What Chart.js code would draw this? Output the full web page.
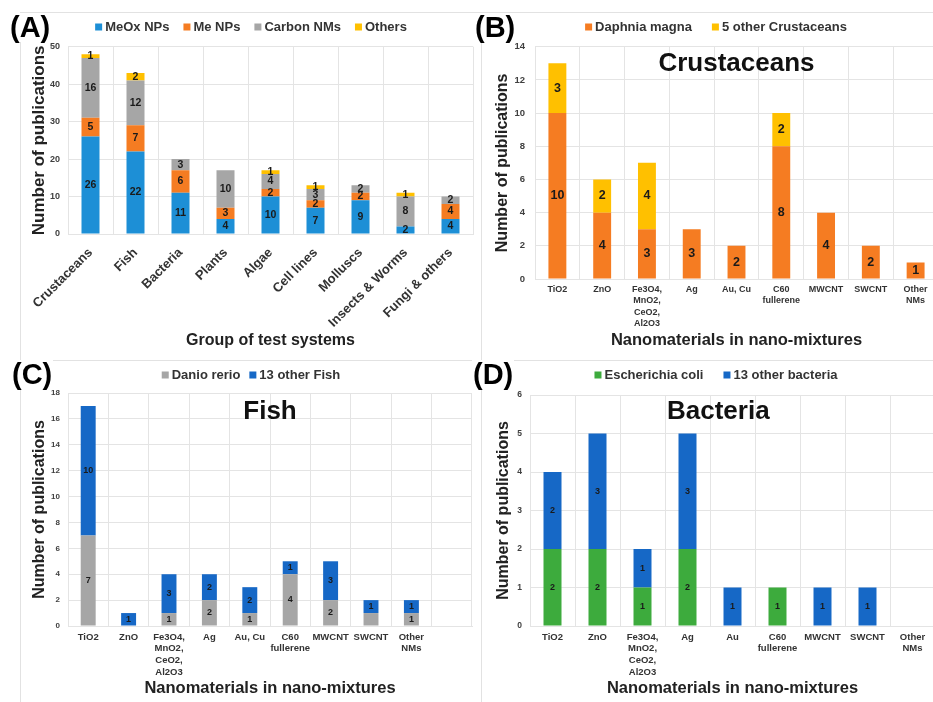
<!DOCTYPE html>
<html>
<head>
<meta charset="utf-8">
<title>Nano-mixture test systems</title>
<script src="https://cdn.jsdelivr.net/npm/chart.js@4.4.0/dist/chart.umd.min.js"></script>
<style>
  html, body { margin: 0; padding: 0; background: #fff; width: 933px; height: 702px; overflow: hidden; }
  #fig { position: relative; width: 933px; height: 702px; overflow: hidden; background: #fff; }
  .rule { position: absolute; background: #e2e2e2; }
  canvas.panel { position: absolute; }
  .tag { position: absolute; font: bold 29px "Liberation Sans", Arial, sans-serif; line-height: 29px;
         color: #000; background: #fff; padding: 0 1px; }
</style>
</head>
<body>
<div id="fig">
  <div class="rule" style="left:20px;top:12px;width:913px;height:1px"></div>
  <div class="rule" style="left:20px;top:360px;width:913px;height:1px"></div>
  <div class="rule" style="left:20px;top:12px;width:1px;height:690px"></div>
  <div class="rule" style="left:481px;top:12px;width:1px;height:690px"></div>

  <canvas class="panel" id="chartA" width="462" height="348" style="left:20px;top:12px"></canvas>
  <canvas class="panel" id="chartB" width="468" height="348" style="left:482px;top:12px"></canvas>
  <canvas class="panel" id="chartC" width="462" height="342" style="left:20px;top:360px"></canvas>
  <canvas class="panel" id="chartD" width="468" height="342" style="left:482px;top:360px"></canvas>

  <div class="tag" style="left:9px;top:13px">(A)</div>
  <div class="tag" style="left:474px;top:13px">(B)</div>
  <div class="tag" style="left:11px;top:360px">(C)</div>
  <div class="tag" style="left:472px;top:360px">(D)</div>
</div>

<script>
// ---- (A) publications per group of test systems ----
const groups = ['Crustaceans', 'Fish', 'Bacteria', 'Plants', 'Algae', 'Cell lines', 'Molluscs', 'Insects & Worms', 'Fungi & others'];
const meoxNPs   = [26, 22, 11, 4, 10, 7, 9, 2, 4];
const meNPs     = [5, 7, 6, 3, 2, 2, 2, 0, 4];
const carbonNMs = [16, 12, 3, 10, 4, 3, 2, 8, 2];
const othersNMs = [1, 2, 0, 0, 1, 1, 0, 1, 0];

// ---- (B) crustaceans ----
const crustaceanNMs = ['TiO2', 'ZnO', ['Fe3O4,', 'MnO2,', 'CeO2,', 'Al2O3'], 'Ag', 'Au, Cu', ['C60', 'fullerene'], 'MWCNT', 'SWCNT', ['Other', 'NMs']];
const daphniaMagna     = [10, 4, 3, 3, 2, 8, 4, 2, 1];
const otherCrustaceans = [3, 2, 4, 0, 0, 2, 0, 0, 0];

// ---- (C) fish ----
const fishNMs = ['TiO2', 'ZnO', ['Fe3O4,', 'MnO2,', 'CeO2,', 'Al2O3'], 'Ag', 'Au, Cu', ['C60', 'fullerene'], 'MWCNT', 'SWCNT', ['Other', 'NMs'], ''];
const danioRerio = [7, 0, 1, 2, 1, 4, 2, 1, 1, 0];
const otherFish  = [10, 1, 3, 2, 2, 1, 3, 1, 1, 0];

// ---- (D) bacteria ----
const bacteriaNMs = ['TiO2', 'ZnO', ['Fe3O4,', 'MnO2,', 'CeO2,', 'Al2O3'], 'Ag', 'Au', ['C60', 'fullerene'], 'MWCNT', 'SWCNT', ['Other', 'NMs']];
const eColi         = [2, 2, 1, 2, 0, 1, 0, 0, 0];
const otherBacteria = [2, 3, 1, 3, 1, 0, 1, 1, 0];

const FONT = '"Liberation Sans", Arial, sans-serif';
Chart.defaults.font.family = FONT;

const COLORS = {
  meox: '#1d8fd6', me: '#f57c22', carbon: '#a6a6a6', others: '#ffc000',
  otherBlue: '#1668c6', ecoli: '#3dab3d'
};
const GRID = '#e4e4e4';

// numbers written in the middle of each stacked segment
const segmentLabels = {
  id: 'segmentLabels',
  afterDatasetsDraw(chart, args, opts) {
    const ctx = chart.ctx;
    ctx.save();
    ctx.font = `bold ${opts.size}px ${FONT}`;
    ctx.fillStyle = '#1a1a1a';
    ctx.textAlign = 'center';
    ctx.textBaseline = 'middle';
    chart.data.datasets.forEach((ds, di) => {
      const skip = ds.unlabelled || [];
      chart.getDatasetMeta(di).data.forEach((bar, i) => {
        const v = ds.data[i];
        if (!v || skip.includes(i)) return;
        const { x, y, base } = bar.getProps(['x', 'y', 'base'], true);
        ctx.fillText(String(v), x, (y + base) / 2);
      });
    });
    ctx.restore();
  }
};

// single-row key above the plot
const keyRow = {
  id: 'keyRow',
  afterDraw(chart, args, opts) {
    const ctx = chart.ctx;
    ctx.save();
    ctx.font = `bold ${opts.size}px ${FONT}`;
    ctx.textBaseline = 'middle';
    ctx.textAlign = 'left';
    const items = chart.data.datasets.map(ds => ({
      text: ds.label, color: ds.backgroundColor, w: ctx.measureText(ds.label).width
    }));
    const total = items.reduce((s, it) => s + opts.box + opts.gap + it.w, 0) + opts.spacing * (items.length - 1);
    let x = chart.width / 2 - total / 2;
    items.forEach(it => {
      ctx.fillStyle = it.color;
      ctx.fillRect(x, opts.y - opts.box / 2, opts.box, opts.box);
      x += opts.box + opts.gap;
      ctx.fillStyle = '#333';
      ctx.fillText(it.text, x, opts.y);
      x += it.w + opts.spacing;
    });
    ctx.restore();
  }
};

// large heading drawn inside the plot area
const panelHeading = {
  id: 'panelHeading',
  afterDraw(chart, args, opts) {
    if (!opts.text) return;
    const a = chart.chartArea;
    const ctx = chart.ctx;
    ctx.save();
    ctx.font = `bold ${opts.size}px ${FONT}`;
    ctx.fillStyle = '#111';
    ctx.textAlign = 'center';
    ctx.textBaseline = 'middle';
    ctx.fillText(opts.text, a.left + a.width * opts.xFrac, a.top + opts.dy);
    ctx.restore();
  }
};

function stackedBars(id, cfg) {
  return new Chart(document.getElementById(id), {
    type: 'bar',
    data: {
      labels: cfg.labels,
      datasets: cfg.series.map(s => Object.assign({
        categoryPercentage: 1,
        barPercentage: cfg.barPct,
        borderWidth: 0
      }, s))
    },
    options: {
      responsive: false,
      animation: false,
      events: [],
      layout: { padding: { top: cfg.pad[0], right: cfg.pad[1], bottom: 0, left: 0 } },
      plugins: {
        legend: { display: false },
        tooltip: { enabled: false },
        segmentLabels: { size: cfg.valueSize },
        keyRow: Object.assign({ y: 15, box: 7, gap: 3, size: 13 }, cfg.key),
        panelHeading: cfg.heading || {}
      },
      scales: {
        x: {
          stacked: true,
          afterFit: s => { s.height = cfg.xHeight; },
          grid: { color: GRID, drawTicks: false, offset: true },
          border: { color: GRID },
          ticks: Object.assign({ autoSkip: false, color: '#333' }, cfg.xTicks),
          title: {
            display: true, text: cfg.xTitle, color: '#222',
            font: { size: cfg.xTitleSize, weight: 'bold' },
            padding: { top: 0, bottom: cfg.xTitlePad }
          }
        },
        y: {
          stacked: true,
          min: 0, max: cfg.yMax,
          afterFit: s => { s.width = cfg.yWidth; },
          grid: { color: GRID, drawTicks: false },
          border: { color: GRID },
          ticks: { stepSize: cfg.yStep, padding: cfg.yTickPad, color: '#404040', font: { size: cfg.yTickSize, weight: 'bold' } },
          title: {
            display: true, text: 'Number of publications', color: '#222',
            font: { size: cfg.yTitleSize, weight: 'bold' },
            padding: { top: cfg.yTitlePad, bottom: 0 }
          }
        }
      }
    },
    plugins: [segmentLabels, keyRow, panelHeading]
  });
}

const nmTicks = size => ({ maxRotation: 0, minRotation: 0, padding: 5, font: { size, weight: 'bold', lineHeight: 1.25 } });

// (A)
stackedBars('chartA', {
  labels: groups,
  series: [
    { label: 'MeOx NPs',   data: meoxNPs,   backgroundColor: COLORS.meox },
    { label: 'Me NPs',     data: meNPs,     backgroundColor: COLORS.me },
    { label: 'Carbon NMs', data: carbonNMs, backgroundColor: COLORS.carbon },
    { label: 'Others',     data: othersNMs, backgroundColor: COLORS.others }
  ],
  barPct: 0.4, valueSize: 10.5,
  pad: [34.7, 9], xHeight: 126, yWidth: 48,
  key: { spacing: 14 },
  xTicks: { maxRotation: 45, minRotation: 45, padding: 11, font: { size: 13, weight: 'bold' } },
  xTitle: 'Group of test systems', xTitleSize: 16, xTitlePad: 9.4,
  yMax: 50, yStep: 10, yTickPad: 8, yTickSize: 9, yTitleSize: 17, yTitlePad: 8.8
});

// (B)
stackedBars('chartB', {
  labels: crustaceanNMs,
  series: [
    { label: 'Daphnia magna',        data: daphniaMagna,     backgroundColor: COLORS.me },
    { label: '5 other Crustaceans',  data: otherCrustaceans, backgroundColor: COLORS.others }
  ],
  barPct: 0.4, valueSize: 12.5,
  pad: [34.7, 12], xHeight: 81, yWidth: 53,
  key: { spacing: 20 },
  heading: { text: 'Crustaceans', size: 26, xFrac: 0.5, dy: 17.3 },
  xTicks: nmTicks(9),
  xTitle: 'Nanomaterials in nano-mixtures', xTitleSize: 16.5, xTitlePad: 10,
  yMax: 14, yStep: 2, yTickPad: 10, yTickSize: 9.5, yTitleSize: 16, yTitlePad: 11.4
});

// (C)
stackedBars('chartC', {
  labels: fishNMs,
  series: [
    { label: 'Danio rerio',   data: danioRerio, backgroundColor: COLORS.carbon, unlabelled: [7] },
    { label: '13 other Fish', data: otherFish,  backgroundColor: COLORS.otherBlue }
  ],
  barPct: 0.37, valueSize: 9,
  pad: [33, 10], xHeight: 76, yWidth: 48,
  key: { spacing: 9 },
  heading: { text: 'Fish', size: 26, xFrac: 0.5, dy: 19 },
  xTicks: nmTicks(9.5),
  xTitle: 'Nanomaterials in nano-mixtures', xTitleSize: 16.5, xTitlePad: 4,
  yMax: 18, yStep: 2, yTickPad: 8, yTickSize: 8, yTitleSize: 16, yTitlePad: 10
});

// (D)
stackedBars('chartD', {
  labels: bacteriaNMs,
  series: [
    { label: 'Escherichia coli',   data: eColi,         backgroundColor: COLORS.ecoli },
    { label: '13 other bacteria',  data: otherBacteria, backgroundColor: COLORS.otherBlue }
  ],
  barPct: 0.4, valueSize: 9,
  pad: [35, 15], xHeight: 76, yWidth: 48,
  key: { spacing: 20 },
  heading: { text: 'Bacteria', size: 26, xFrac: 0.465, dy: 17 },
  xTicks: nmTicks(9.5),
  xTitle: 'Nanomaterials in nano-mixtures', xTitleSize: 16.5, xTitlePad: 4,
  yMax: 6, yStep: 1, yTickPad: 8, yTickSize: 8.5, yTitleSize: 16, yTitlePad: 12
});
</script>
</body>
</html>
